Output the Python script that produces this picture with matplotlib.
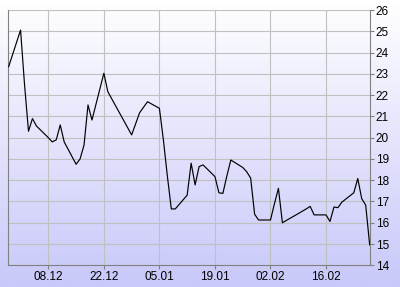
import matplotlib
matplotlib.use("Agg")
import matplotlib.pyplot as plt
import matplotlib.dates as mdates
import numpy as np
import pandas as pd

# closing values
dates = [
    "2008-11-28", "2008-12-01", "2008-12-02", "2008-12-03", "2008-12-04", "2008-12-05",
    "2008-12-08", "2008-12-09", "2008-12-10", "2008-12-11", "2008-12-12",
    "2008-12-15", "2008-12-16", "2008-12-17", "2008-12-18", "2008-12-19",
    "2008-12-22", "2008-12-23", "2008-12-29", "2008-12-30", "2008-12-31", "2009-01-02",
    "2009-01-05", "2009-01-06", "2009-01-07", "2009-01-08", "2009-01-09",
    "2009-01-12", "2009-01-13", "2009-01-14", "2009-01-15", "2009-01-16",
    "2009-01-19", "2009-01-20", "2009-01-21", "2009-01-22", "2009-01-23",
    "2009-01-26", "2009-01-27", "2009-01-28", "2009-01-29", "2009-01-30",
    "2009-02-02", "2009-02-03", "2009-02-04", "2009-02-05", "2009-02-06",
    "2009-02-09", "2009-02-10", "2009-02-11", "2009-02-12", "2009-02-13",
    "2009-02-16", "2009-02-17", "2009-02-18", "2009-02-19", "2009-02-20",
    "2009-02-23", "2009-02-24", "2009-02-25", "2009-02-26", "2009-02-27",
]
values = [
    23.34, 25.06, 22.5, 20.3, 20.9, 20.55,
    20.0, 19.8, 19.9, 20.6, 19.8,
    18.75, 19.0, 19.65, 21.54, 20.83,
    23.03, 22.16, 20.13, 20.65, 21.17, 21.69,
    21.38, 19.9, 18.2, 16.65, 16.65,
    17.3, 18.8, 17.78, 18.64, 18.72,
    18.17, 17.41, 17.38, 18.2, 18.95,
    18.6, 18.4, 18.1, 16.4, 16.13,
    16.13, 16.9, 17.62, 16.0, 16.11,
    16.43, 16.54, 16.65, 16.77, 16.37,
    16.37, 16.06, 16.74, 16.71, 16.97,
    17.41, 18.08, 17.13, 16.83, 14.96,
]
y_ticks = list(range(14, 27))
x_ticks = ["2008-12-08", "2008-12-22", "2009-01-05", "2009-01-19", "2009-02-02", "2009-02-16"]

x = pd.to_datetime(dates)

fig = plt.figure(figsize=(4.0, 2.87), dpi=100)

# white-to-lavender background gradient
bg = fig.add_axes([0, 0, 1, 1], zorder=0)
grad = np.linspace(0, 1, 256).reshape(-1, 1)
top = np.array([1.0, 1.0, 1.0])
bottom = np.array([200, 200, 250]) / 255.0
img = top + (bottom - top) * grad[:, :, None]
bg.imshow(img, aspect="auto", extent=[0, 1, 0, 1])
bg.axis("off")

ax = fig.add_axes([0.02, 0.0756, 0.905, 0.8894], zorder=1)
ax.patch.set_alpha(0)
ax.plot(x, values, color="black", lw=0.85, zorder=3)

ax.set_xlim(pd.Timestamp("2008-11-27 20:00"), pd.Timestamp("2009-02-27 02:00"))
ax.set_ylim(14, 26)

ax.set_xticks(pd.to_datetime(x_ticks))
ax.xaxis.set_major_formatter(mdates.DateFormatter("%d.%m"))
ax.set_yticks(y_ticks)
ax.yaxis.tick_right()

ax.grid(True, color="#c0c0c0", lw=0.8, zorder=0)
ax.spines["top"].set_visible(False)
for s in ["left", "bottom", "right"]:
    ax.spines[s].set_color("#808080")
    ax.spines[s].set_linewidth(0.8)

ax.tick_params(axis="both", colors="#808080", length=3, width=0.8,
               labelcolor="black", labelsize=8.5, pad=1)
for lab in ax.get_xticklabels() + ax.get_yticklabels():
    lab.set_fontfamily("Liberation Sans")

fig.savefig("out.png", dpi=100)
